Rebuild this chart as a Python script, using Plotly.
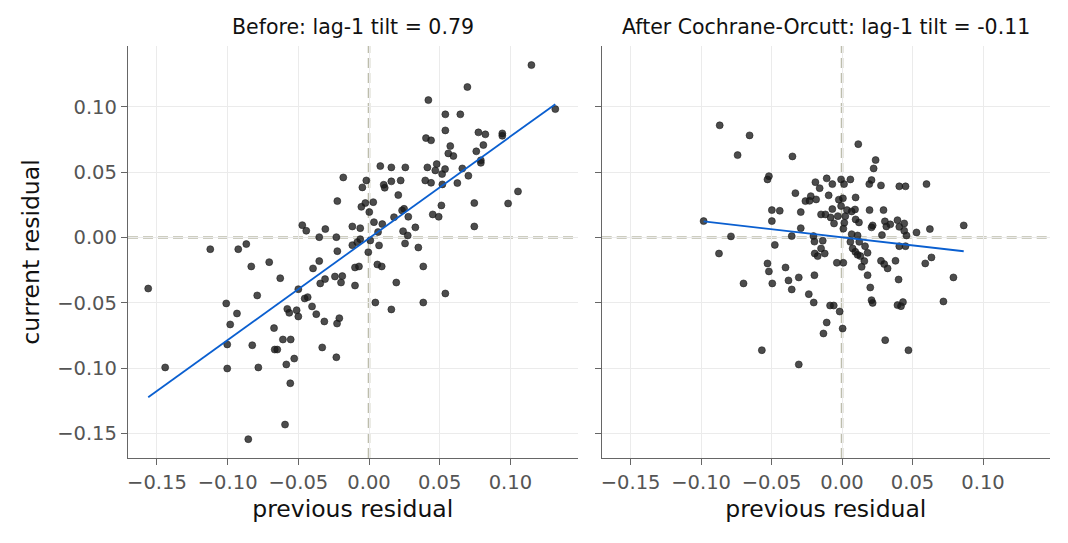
import numpy as np
import plotly.graph_objects as go

# ---- data: (previous residual, current residual) ----
before_prev = [-0.0182, -0.0224, -0.0472, -0.0444, -0.0309, -0.0352, -0.0231, -0.0118,
               -0.1123, -0.0925, -0.0868, -0.0224, -0.0118, 0.1149, 0.0696, 0.0420,
               0.1318, 0.0540, 0.0646, 0.0540, 0.0403, 0.0439, 0.0774, 0.0823,
               0.0943, 0.0943, 0.0575, 0.0809, 0.0561, 0.0597, 0.0759, 0.0791,
               0.0791, 0.0080, 0.0158, 0.0257, 0.0413, 0.0479, 0.0469, 0.0538,
               0.0517, 0.0660, 0.0703, -0.0019, -0.0047, 0.0104, 0.0111, 0.0158,
               0.0224, 0.0398, 0.0439, 0.0519, 0.0625, 0.0207, 0.0030, -0.0026,
               -0.0054, 0.0002, 0.0248, 0.0234, 0.0278, 0.0177, 0.0035, 0.0094,
               0.0512, 0.0451, 0.0493, 0.0745, 0.0984, 0.1054, 0.0745, 0.0328,
               0.0241, 0.0274, 0.0064, -0.0062, 0.0009, -0.0062, -0.0083, 0.0071,
               0.0255, 0.0349, -0.0005, -0.1562, -0.1442, -0.0352, -0.0396, -0.0706,
               -0.0833, -0.0628, -0.0500, -0.0345, -0.0311, -0.0241, -0.0189, -0.0198,
               -0.0099, -0.0071, -0.0099, -0.0791, -0.1010, -0.0934, -0.0982, -0.0455,
               -0.0434, -0.0403, -0.0578, -0.0564, -0.0512, -0.0500, -0.0373, -0.0316,
               -0.0210, -0.0226, -0.0672, -0.0609, -0.0554, -0.1003, -0.0826, -0.0667,
               -0.0649, -0.0331, -0.0231, -0.0529, -0.0585, -0.1003, -0.0783, -0.0557,
               -0.0594, -0.0854, 0.0059, 0.0090, 0.0384, 0.0193, 0.0045, 0.0158,
               0.0384, 0.0540]
before_curr = [0.0459, 0.0278, 0.0094, 0.0051, 0.0064, 0.0002, 0.0002, 0.0084,
               -0.0090, -0.0090, -0.0051, -0.0105, -0.0059, 0.1319, 0.1151, 0.1051,
               0.0982, 0.0942, 0.0942, 0.0819, 0.0760, 0.0743, 0.0804, 0.0789,
               0.0796, 0.0778, 0.0699, 0.0707, 0.0643, 0.0623, 0.0659, 0.0590,
               0.0571, 0.0546, 0.0536, 0.0536, 0.0536, 0.0561, 0.0513, 0.0523,
               0.0485, 0.0528, 0.0472, 0.0436, 0.0383, 0.0403, 0.0380, 0.0429,
               0.0436, 0.0436, 0.0418, 0.0406, 0.0416, 0.0324, 0.0270, 0.0263,
               0.0234, 0.0194, 0.0219, 0.0207, 0.0158, 0.0155, 0.0117, 0.0102,
               0.0245, 0.0176, 0.0158, 0.0263, 0.0260, 0.0352, 0.0084, 0.0077,
               0.0048, 0.0015, 0.0041, 0.0071, -0.0023, -0.0013, -0.0036, -0.0061,
               -0.0046, -0.0077, -0.0113, -0.0391, -0.0995, -0.0181, -0.0237, -0.0189,
               -0.0222, -0.0312, -0.0396, -0.0352, -0.0319, -0.0299, -0.0296, -0.0345,
               -0.0230, -0.0222, -0.0368, -0.0444, -0.0505, -0.0582, -0.0666, -0.0467,
               -0.0457, -0.0528, -0.0547, -0.0577, -0.0557, -0.0605, -0.0587, -0.0643,
               -0.0618, -0.0659, -0.0694, -0.0781, -0.0781, -0.0819, -0.0825, -0.0858,
               -0.0858, -0.0842, -0.0917, -0.0927, -0.0972, -0.1003, -0.0995, -0.1116,
               -0.1432, -0.1544, -0.0207, -0.0222, -0.0222, -0.0345, -0.0498, -0.0551,
               -0.0498, -0.0429]

after_prev = [-0.0868, -0.0656, -0.0741, -0.0352, -0.0519, -0.0529, -0.0189, -0.0109,
              -0.0069, -0.0159, -0.0007, -0.0331, -0.0222, -0.0260, -0.0231, -0.0184,
              -0.0095, -0.0023, 0.0006, -0.0007, -0.0498, -0.0442, -0.0293, -0.0069,
              -0.0149, -0.0118, -0.0081, -0.0030, -0.0057, -0.0498, -0.0982, -0.0293,
              -0.0788, -0.0357, -0.0203, -0.0196, -0.0137, -0.0477, 0.0009, 0.0115,
              0.0238, 0.0224, 0.0059, 0.0209, 0.0193, 0.0276, 0.0406, 0.0450,
              0.0599, 0.0014, 0.0096, 0.0035, 0.0092, 0.0068, 0.0195, 0.0294,
              0.0023, 0.0096, 0.0120, 0.0016, 0.0217, 0.0209, 0.0304, 0.0314,
              0.0342, 0.0393, 0.0441, 0.0406, 0.0441, 0.0457, 0.0528, 0.0623,
              0.0863, 0.0283, 0.0068, 0.0110, 0.0059, 0.0122, 0.0163, 0.0406,
              0.0450, 0.0075, 0.0094, 0.0110, 0.0130, 0.0181, 0.0158, 0.0139,
              -0.0037, 0.0009, 0.0276, 0.0299, 0.0323, 0.0379, 0.0590, 0.0634,
              0.0790, 0.0181, 0.0401, 0.0200, 0.0209, 0.0217, 0.0393, 0.0418,
              0.0432, 0.0719, 0.0306, 0.0471, -0.0873, -0.0529, -0.0519, -0.0401,
              -0.0699, -0.0495, -0.0380, -0.0307, -0.0357, -0.0196, -0.0236, -0.0201,
              -0.0085, -0.0059, -0.0017, -0.0109, -0.0132, 0.0004, -0.0569, -0.0307,
              -0.0194, -0.0173, -0.0149, -0.0123]
after_curr = [0.0858, 0.0781, 0.0630, 0.0620, 0.0469, 0.0444, 0.0423, 0.0452,
              0.0408, 0.0377, 0.0444, 0.0339, 0.0316, 0.0278, 0.0280, 0.0291,
              0.0322, 0.0289, 0.0299, 0.0240, 0.0209, 0.0204, 0.0194, 0.0217,
              0.0176, 0.0176, 0.0153, 0.0163, 0.0107, 0.0125, 0.0125, 0.0071,
              0.0008, 0.0010, 0.0010, -0.0032, -0.0025, -0.0057, 0.0067, 0.0714,
              0.0592, 0.0528, 0.0444, 0.0439, 0.0408, 0.0398, 0.0391, 0.0391,
              0.0408, 0.0408, 0.0306, 0.0209, 0.0214, 0.0199, 0.0209, 0.0209,
              0.0163, 0.0138, 0.0115, 0.0112, 0.0092, 0.0077, 0.0123, 0.0084,
              0.0100, 0.0132, 0.0107, 0.0081, 0.0051, 0.0015, 0.0038, 0.0064,
              0.0092, 0.0018, 0.0025, 0.0015, -0.0034, -0.0034, -0.0067, -0.0067,
              -0.0067, -0.0084, -0.0110, -0.0133, -0.0143, -0.0118, -0.0181, -0.0225,
              -0.0194, -0.0194, -0.0179, -0.0204, -0.0237, -0.0179, -0.0199, -0.0153,
              -0.0306, -0.0289, -0.0322, -0.0383, -0.0480, -0.0501, -0.0518, -0.0526,
              -0.0495, -0.0490, -0.0786, -0.0863, -0.0123, -0.0199, -0.0260, -0.0230,
              -0.0352, -0.0352, -0.0329, -0.0306, -0.0398, -0.0289, -0.0434, -0.0498,
              -0.0521, -0.0521, -0.0567, -0.0651, -0.0735, -0.0697, -0.0863, -0.0972,
              -0.0123, -0.0143, -0.0084, -0.0123]

titles = ["Before: lag-1 tilt = 0.79", "After Cochrane-Orcutt: lag-1 tilt = -0.11"]
tick_vals = [-0.15, -0.10, -0.05, 0.00, 0.05, 0.10]
tick_text = ["\u22120.15", "\u22120.10", "\u22120.05", "0.00", "0.05", "0.10"]

FONT = "DejaVu Sans"
W, H = 1068, 543
dom_x = [(128 / W, 577.5 / W), (601.7 / W, 1050 / W)]
dom_y = (1 - 458 / H, 1 - 46 / H)
xr = [-0.1705, 0.1475]
yr = [-0.1688, 0.1465]

fig = go.Figure()
panels = [(before_prev, before_curr), (after_prev, after_curr)]
for i, (px, py) in enumerate(panels):
    xa = "x" if i == 0 else "x2"
    ya = "y" if i == 0 else "y2"
    fig.add_trace(go.Scatter(
        x=px, y=py, mode="markers", xaxis=xa, yaxis=ya, showlegend=False,
        marker=dict(size=7, color="rgba(25,25,25,0.78)",
                    line=dict(width=1, color="rgba(25,25,25,0.55)"))))
    a = np.asarray(px); b = np.asarray(py)
    slope, icpt = np.polyfit(a, b, 1)
    lx = np.array([a.min(), a.max()])
    fig.add_trace(go.Scatter(
        x=lx, y=slope * lx + icpt, mode="lines", xaxis=xa, yaxis=ya,
        showlegend=False, line=dict(color="#0a5fd0", width=1.8)))
    # dashed reference lines at zero
    dash_line = dict(color="#bdbdac", width=2.6, dash="10px,5px")
    fig.add_shape(type="line", xref=xa, yref=f"{ya} domain", x0=0, x1=0, y0=0, y1=1,
                  line=dash_line, layer="below")
    fig.add_shape(type="line", xref=f"{xa} domain", yref=ya, x0=0, x1=1, y0=0, y1=0,
                  line=dash_line, layer="below")
    fig.add_annotation(text=titles[i], xref="paper", yref="paper",
                       x=(dom_x[i][0] + dom_x[i][1]) / 2, y=1 - 27 / H,
                       showarrow=False, font=dict(family=FONT, size=20.5, color="#111"),
                       xanchor="center", yanchor="middle")

axis_common = dict(showgrid=True, gridcolor="#ebebeb", gridwidth=1, zeroline=False,
                   showline=True, linecolor="#666", linewidth=1.3, mirror=False,
                   ticks="outside", ticklen=6, tickwidth=1.3, tickcolor="#666",
                   tickfont=dict(family=FONT, size=19.5, color="#555"),
                   tickvals=tick_vals, ticktext=tick_text)

lab_font = dict(family=FONT, size=23.5, color="#111")
fig.update_layout(
    width=W, height=H, margin=dict(l=0, r=0, t=0, b=0),
    plot_bgcolor="white", paper_bgcolor="white", font=dict(family=FONT),
    xaxis=dict(domain=dom_x[0], range=xr, anchor="y",
               title=dict(text="previous residual", font=lab_font, standoff=8), **axis_common),
    xaxis2=dict(domain=dom_x[1], range=xr, anchor="y2", matches="x",
                title=dict(text="previous residual", font=lab_font, standoff=8), **axis_common),
    yaxis=dict(domain=dom_y, range=yr, anchor="x",
               title=dict(text="current residual", font=lab_font, standoff=10), **axis_common),
    yaxis2=dict(domain=dom_y, range=yr, anchor="x2", matches="y", showticklabels=False,
                **axis_common),
)

fig.write_html("out.html")
